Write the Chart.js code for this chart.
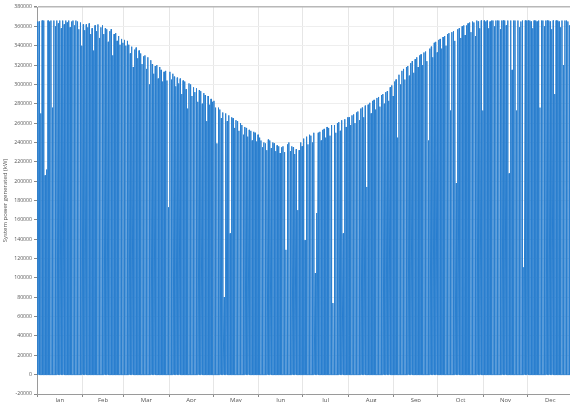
<!DOCTYPE html>
<html>
<head>
<meta charset="utf-8">
<script src="https://cdn.jsdelivr.net/npm/chart.js@4/dist/chart.umd.min.js"></script>
<style>
  html, body { margin: 0; padding: 0; background: #ffffff; overflow: hidden; }
  #chart { display: block; }
</style>
</head>
<body>
<canvas id="chart" width="573" height="402"></canvas>
<script>
const monthNames = ['Jan', 'Feb', 'Mar', 'Apr', 'May', 'Jun', 'Jul', 'Aug', 'Sep', 'Oct', 'Nov', 'Dec'];
const monthDays = [31, 28, 31, 30, 31, 30, 31, 31, 30, 31, 30, 31];

// daily peak output, thousands of kW
const janPeaks = [365, 365, 270, 366, 366, 206, 212, 366, 365, 366, 276, 366, 360, 366, 363, 366, 358, 366, 362, 366, 364, 366, 359, 365, 366, 361, 366, 365, 357, 364, 340];
const febPeaks = [362, 356, 362, 359, 363, 352, 358, 335, 361, 355, 362, 348, 359, 361, 352, 358, 357, 344, 355, 357, 330, 352, 353, 345, 350, 341, 347, 343];
const marPeaks = [346, 340, 345, 341, 332, 339, 318, 336, 338, 327, 335, 332, 321, 329, 330, 316, 328, 300, 325, 321, 311, 319, 320, 306, 318, 315, 303, 313, 314, 304, 173];
const aprPeaks = [313, 305, 311, 308, 298, 307, 301, 306, 290, 304, 303, 295, 275, 301, 300, 288, 297, 292, 296, 282, 294, 293, 280, 291, 289, 262, 288, 279, 285, 282];
const mayPeaks = [283, 276, 239, 276, 274, 265, 271, 80, 270, 262, 268, 146, 266, 265, 255, 263, 262, 252, 260, 258, 248, 256, 255, 246, 253, 252, 242, 251, 250, 241, 248];
const junPeaks = [245, 242, 235, 240, 239, 232, 243, 242, 234, 240, 239, 231, 237, 236, 229, 235, 236, 230, 129, 238, 240, 231, 236, 235, 228, 233, 170, 232, 240, 236];
const julPeaks = [244, 139, 246, 238, 248, 247, 240, 250, 105, 167, 250, 251, 242, 253, 254, 245, 256, 255, 247, 258, 74, 258, 250, 260, 261, 252, 263, 146, 264, 256, 266];
const augPeaks = [266, 258, 268, 269, 260, 271, 272, 263, 275, 276, 266, 278, 194, 279, 281, 270, 283, 284, 274, 286, 287, 277, 289, 290, 280, 292, 293, 283, 297, 299, 288];
const sepPeaks = [303, 305, 245, 310, 300, 314, 316, 305, 318, 319, 309, 322, 324, 312, 326, 328, 318, 330, 331, 320, 333, 334, 324, 242, 337, 339, 328, 343, 344, 333];
const octPeaks = [346, 347, 337, 349, 350, 340, 352, 353, 273, 354, 355, 345, 198, 357, 358, 348, 360, 361, 351, 361, 363, 364, 354, 365, 364, 350, 366, 365, 358, 366, 273];
const novPeaks = [366, 365, 366, 358, 365, 366, 366, 360, 366, 366, 366, 357, 366, 366, 366, 361, 366, 208, 366, 315, 366, 366, 273, 366, 359, 365, 366, 111, 366, 366];
const decPeaks = [366, 366, 365, 358, 366, 366, 365, 366, 276, 366, 366, 360, 366, 366, 366, 365, 357, 366, 290, 366, 366, 365, 359, 366, 320, 366, 366, 365, 361, 366, 366];

// hours of the day where output starts, peaks and stops
const sunriseHour = 7;
const noonHour = 12;
const sunsetHour = 17;

const yMin = -20000;
const yMax = 380000;
const yStep = 20000;

const dailyPeaks = [].concat(janPeaks, febPeaks, marPeaks, aprPeaks, mayPeaks, junPeaks,
  julPeaks, augPeaks, sepPeaks, octPeaks, novPeaks, decPeaks);

const points = [];
dailyPeaks.forEach((peak, day) => {
  const base = day * 24;
  points.push({ x: base + sunriseHour, y: 0 });
  points.push({ x: base + noonHour, y: peak * 1000 });
  points.push({ x: base + sunsetHour, y: 0 });
});
const yearHours = dailyPeaks.length * 24;

// month boundaries carry grid lines, mid-months carry the names
const boundaryHours = new Set();
const labelAt = new Map();
let startDay = 0;
monthDays.forEach((days, i) => {
  boundaryHours.add(startDay * 24);
  labelAt.set((startDay + days / 2) * 24, monthNames[i]);
  startDay += days;
});
const xTickValues = [...boundaryHours, ...labelAt.keys()].sort((a, b) => a - b);

const fontFamily = '"Open Sans", "DejaVu Sans", sans-serif';

new Chart(document.getElementById('chart'), {
  type: 'line',
  data: {
    datasets: [{
      label: 'System power generated',
      data: points,
      parsing: false,
      borderColor: '#2a7fcf',
      borderWidth: 1,
      pointRadius: 0,
      tension: 0,
      fill: false,
    }],
  },
  options: {
    responsive: false,
    animation: false,
    events: [],
    layout: { padding: { top: 7, left: 0, right: 0, bottom: 0 } },
    plugins: {
      legend: { display: false },
      tooltip: { enabled: false },
    },
    scales: {
      x: {
        type: 'linear',
        min: 0,
        max: yearHours,
        afterBuildTicks(scale) {
          scale.ticks = xTickValues.map((value) => ({ value }));
        },
        afterFit(scale) {
          scale.height = 8;
        },
        border: { display: true, color: '#9a9a9a', width: 1 },
        grid: {
          color: (ctx) => (ctx.tick && boundaryHours.has(ctx.tick.value) ? '#e6e6e6' : 'rgba(0,0,0,0)'),
          tickColor: (ctx) => (ctx.tick && boundaryHours.has(ctx.tick.value) ? '#8a8a8a' : 'rgba(0,0,0,0)'),
          tickLength: 3,
        },
        ticks: {
          autoSkip: false,
          maxRotation: 0,
          padding: 0,
          color: '#555555',
          font: { family: fontFamily, size: 6 },
          callback: (value) => labelAt.get(value) || '',
        },
      },
      y: {
        min: yMin,
        max: yMax,
        afterFit(scale) {
          scale.width = 37;
        },
        border: { display: true, color: '#9a9a9a', width: 1 },
        grid: {
          color: (ctx) => (ctx.tick && ctx.tick.value === yMax ? '#b8b8b8' : '#eeeeee'),
          lineWidth: (ctx) => (ctx.tick && ctx.tick.value === yMax ? 1.5 : 1),
          tickColor: '#8a8a8a',
          tickLength: 3,
        },
        ticks: {
          stepSize: yStep,
          padding: 2,
          color: '#555555',
          font: { family: fontFamily, size: 5.2 },
          callback: (value) => String(value),
        },
        title: {
          display: true,
          text: 'System power generated (kW)',
          color: '#555555',
          padding: { top: 2, bottom: 0 },
          font: { family: fontFamily, size: 6 },
        },
      },
    },
  },
});
</script>
</body>
</html>
